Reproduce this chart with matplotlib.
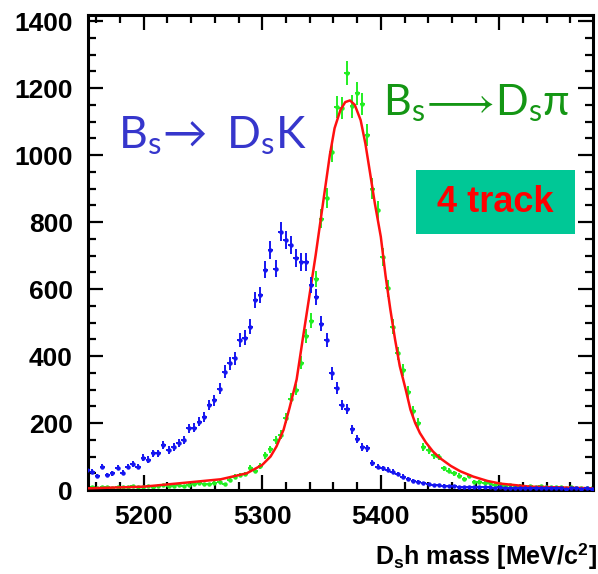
import numpy as np
import matplotlib
matplotlib.use("Agg")
import matplotlib.pyplot as plt
from matplotlib.patches import Rectangle
from matplotlib.ticker import MultipleLocator

plt.rcParams["mathtext.fontset"] = "custom"
plt.rcParams["mathtext.rm"] = "Lato"
plt.rcParams["mathtext.it"] = "Lato:italic"
plt.rcParams["mathtext.bf"] = "Liberation Sans:bold"

# ---------------------------------------------------------------------------
# Data (100 bins of 4.3 MeV starting at 5150 MeV)
# ---------------------------------------------------------------------------
BIN_LO = 5150.0
BIN_W = 4.3

dsk_counts = [
    60, 55, 42, 70, 45, 50, 67, 52, 70, 78,
    70, 97, 91, 109, 109, 134, 119, 129, 139, 149,
    184, 186, 204, 219, 254, 268, 303, 353, 378, 393,
    447, 455, 487, 567, 582, 658, 716, 661, 771, 746,
    731, 693, 681, 680, 612, 575, 497, 447, 348, 305,
    254, 241, 182, 152, 129, 124, 80, 70, 65, 60,
    55, 48, 40, 33, 28, 24, 20, 17, 15, 14,
    13, 12, 11, 10, 10, 9, 9, 8, 9, 8,
    7, 8, 7, 7, 6, 7, 6, 6, 7, 5,
    6, 5, 5, 6, 4, 5, 5, 4, 5, 4,
]

dspi_counts = [
    8, 10, 6, 8, 9, 7, 10, 8, 9, 11,
    10, 8, 12, 10, 12, 14, 11, 13, 15, 12,
    16, 18, 20, 17, 18, 22, 25, 17, 30, 40,
    45, 48, 66, 58, 72, 104, 121, 149, 165, 215,
    272, 300, 380, 460, 505, 630, 810, 872, 1010, 1143,
    1140, 1245, 1145, 1185, 1152, 1060, 900, 835, 696, 602,
    487, 408, 358, 293, 235, 200, 129, 119, 104, 99,
    65, 58, 50, 43, 32, 42, 25, 24, 22, 20,
    16, 17, 13, 15, 12, 13, 10, 12, 9, 11,
    9, 10, 8, 9, 7, 8, 7, 6, 7, 6,
]

# fitted curve for Bs -> Ds pi, sampled along the red line
fit_mass = [5153, 5200, 5230, 5265, 5287, 5300, 5307, 5312, 5318, 5323,
            5329, 5334, 5340, 5345, 5349, 5353, 5357, 5361, 5366, 5370,
            5374, 5378, 5383, 5387, 5391, 5395, 5400, 5404, 5408, 5412,
            5416, 5421, 5425, 5429, 5433, 5438, 5444, 5450, 5459, 5467,
            5478, 5490, 5501, 5526, 5579]
fit_vals = [5, 10, 20, 32, 50, 75, 100, 130, 180, 245,
            330, 447, 585, 700, 800, 900, 1000, 1080, 1135, 1158,
            1163, 1150, 1104, 1034, 945, 855, 756, 640, 540, 450,
            370, 300, 240, 200, 170, 142, 115, 95, 72, 56,
            40, 27, 19, 10, 5]

XMIN, XMAX = 5153, 5579
YMAX = 1418

centers = BIN_LO + BIN_W * (np.arange(len(dsk_counts)) + 0.5)
dsk = np.array(dsk_counts, dtype=float)
dspi = np.array(dspi_counts, dtype=float)

fig = plt.figure(figsize=(5.98, 5.74), dpi=100)
ax = fig.add_axes([88 / 598, 84 / 574, 505 / 598, 475 / 574])

ax.errorbar(centers, dspi, xerr=BIN_W / 2, yerr=np.sqrt(dspi), fmt="o", ms=2.2,
            color="#22ee22", ecolor="#22ee22", elinewidth=1.4, capsize=0, zorder=2)
ax.plot(fit_mass, fit_vals, color="#ff1010", lw=1.8, zorder=3)
ax.errorbar(centers, dsk, xerr=BIN_W / 2, yerr=np.sqrt(dsk), fmt="o", ms=2.2,
            color="#1515f0", ecolor="#1515f0", elinewidth=1.4, capsize=0, zorder=4)

ax.set_xlim(XMIN, XMAX)
ax.set_ylim(0, YMAX)
ax.xaxis.set_major_locator(MultipleLocator(100))
ax.xaxis.set_minor_locator(MultipleLocator(20))
ax.yaxis.set_major_locator(MultipleLocator(200))
ax.yaxis.set_minor_locator(MultipleLocator(50))
ax.tick_params(which="both", direction="in", top=True, right=True, width=1.6,
               labelsize=19, colors="black")
ax.tick_params(which="major", length=11)
ax.tick_params(which="minor", length=5.5)
ax.tick_params(axis="y", pad=11)
ax.tick_params(axis="x", pad=11)
for lab in ax.get_xticklabels() + ax.get_yticklabels():
    lab.set_fontfamily("Liberation Sans")
    lab.set_fontweight("bold")
for sp in ax.spines.values():
    sp.set_linewidth(2.2)

ax.set_xlabel(r"$\mathbf{D_s}$h mass [MeV/c$^\mathbf{2}$]", loc="right",
              fontsize=18, fontweight="bold", family="Liberation Sans")
ax.xaxis.set_label_coords(1.008, -0.108)

# channel labels
ax.text(5178, 1020, r"$\mathrm{B_s\!\rightarrow\ D_sK}$", color="#3636cc",
        fontsize=32, ha="left", va="baseline")
ax.text(5402, 1119, r"$\mathrm{B_s\!\longrightarrow\!D_s\pi}$", color="#149614",
        fontsize=31, ha="left", va="baseline")

ax.add_patch(Rectangle((0.6495, 0.539), 0.3145, 0.1347, transform=ax.transAxes,
                       facecolor="#00c896", edgecolor="none", zorder=5))
ax.text(0.807, 0.606, "4 track", transform=ax.transAxes, color="#ff0000",
        fontsize=26, fontweight="bold", family="Liberation Sans",
        ha="center", va="center", zorder=6)

fig.savefig("out.png", dpi=100)
